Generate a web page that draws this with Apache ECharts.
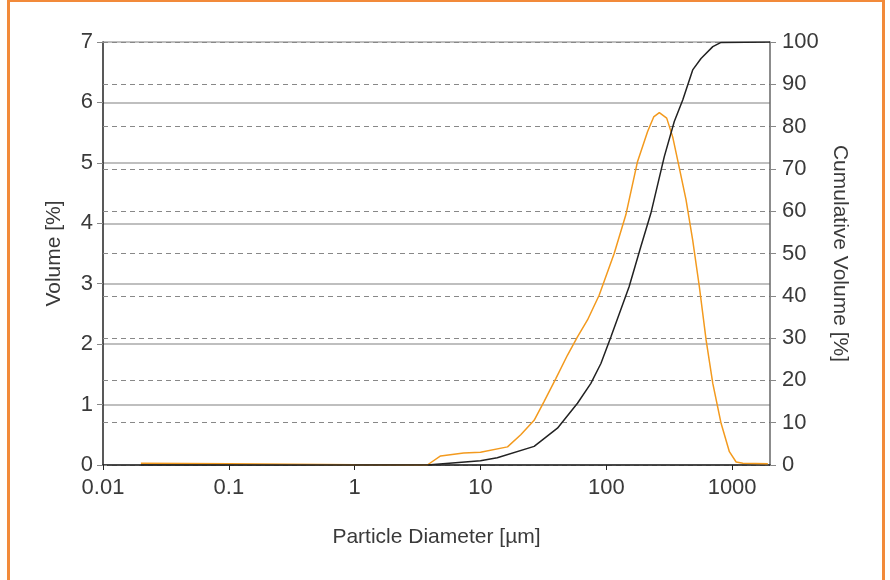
<!DOCTYPE html>
<html>
<head>
<meta charset="utf-8">
<script src="https://cdn.jsdelivr.net/npm/echarts@6/dist/echarts.min.js"></script>
<style>
  html, body { margin: 0; padding: 0; background: #fff; }
  #chart { width: 890px; height: 580px; }
</style>
</head>
<body>
<div id="chart"></div>
<script>
// particle size distribution
const volDiameters = [0.02, 0.1, 1, 3.78, 4.82, 7.35, 10, 16.4, 20.9, 26.7, 32, 39.7, 49.2, 59, 70.9, 87.7,
  115.5, 143, 177, 213, 238, 264, 302, 337, 380, 430, 486, 549, 621, 702, 817, 951, 1076, 1217, 1923];
const volValues = [0.03, 0.02, 0.005, 0, 0.15, 0.2, 0.21, 0.3, 0.5, 0.74, 1.05, 1.43, 1.82, 2.12, 2.4, 2.81,
  3.5, 4.14, 5.02, 5.52, 5.76, 5.83, 5.74, 5.43, 4.92, 4.39, 3.72, 2.95, 2.07, 1.35, 0.69, 0.22, 0.05, 0.03, 0.02];

const cumDiameters = [0.02, 1, 3.78, 10, 13.6, 26.7, 40.9, 59, 75.4, 90.6, 108.9, 152, 188, 226, 289, 347,
  405, 486, 566, 702, 817, 2000];
const cumValues = [0, 0, 0, 1.0, 1.7, 4.4, 8.7, 14.6, 19.3, 24, 30.3, 42.2, 51.6, 59.5, 72.9, 81.2,
  86.3, 93.4, 96.1, 98.9, 99.9, 100];

const volTicks = [0, 1, 2, 3, 4, 5, 6, 7];
const cumTicks = [0, 10, 20, 30, 40, 50, 60, 70, 80, 90, 100];

const font = 'Liberation Sans';
const textColor = '#3a3a3a';

const chart = echarts.init(document.getElementById('chart'));

const option = {
  animation: false,
  backgroundColor: '#fff',
  grid: { left: 103, right: 120, top: 42, bottom: 115 },
  graphic: [{
    type: 'rect',
    shape: { x: 8.5, y: 0.5, width: 875, height: 640 },
    style: { fill: 'none', stroke: '#f28a3a', lineWidth: 3 },
    silent: true
  }],
  xAxis: {
    type: 'log',
    logBase: 10,
    min: 0.01,
    max: 2000,
    name: 'Particle Diameter [µm]',
    nameLocation: 'middle',
    nameGap: 62,
    nameTextStyle: { fontFamily: font, fontSize: 21, color: textColor },
    axisLine: { lineStyle: { color: '#222', width: 1.5 } },
    axisTick: { show: true, length: 5, lineStyle: { color: '#222' } },
    axisLabel: {
      fontFamily: font, fontSize: 22, color: textColor, margin: 12,
      showMaxLabel: false,
      formatter: v => {
        const p = Math.round(Math.log10(v));
        if (Math.abs(Math.log10(v) - p) > 1e-6) return '';
        return p < 0 ? v.toFixed(-p) : String(Math.round(v));
      }
    },
    splitLine: { show: false },
    minorTick: { show: false }
  },
  yAxis: [
    {
      type: 'value',
      min: volTicks[0],
      max: volTicks[volTicks.length - 1],
      interval: 1,
      position: 'left',
      name: 'Volume [%]',
      nameLocation: 'middle',
      nameRotate: 90,
      nameGap: 38,
      nameTextStyle: { fontFamily: font, fontSize: 21, color: textColor },
      axisLine: { show: true, lineStyle: { color: '#222', width: 1.5 } },
      axisTick: { show: true, length: 6, lineStyle: { color: '#888' } },
      axisLabel: { fontFamily: font, fontSize: 22, color: textColor, margin: 10 },
      splitLine: { show: true, lineStyle: { color: '#aaa', width: 1.5 } }
    },
    {
      type: 'value',
      min: cumTicks[0],
      max: cumTicks[cumTicks.length - 1],
      interval: 10,
      position: 'right',
      name: 'Cumulative Volume [%]',
      nameLocation: 'middle',
      nameRotate: -90,
      nameGap: 52,
      nameTextStyle: { fontFamily: font, fontSize: 21, color: textColor },
      axisLine: { show: true, lineStyle: { color: '#666', width: 1.5 } },
      axisTick: { show: true, length: 6, lineStyle: { color: '#888' } },
      axisLabel: { fontFamily: font, fontSize: 22, color: textColor, margin: 12 },
      splitLine: { show: true, lineStyle: { color: '#888', type: [5, 4], width: 1.2 } }
    },
    {
      // inner ticks of the cumulative scale drawn on the left axis
      type: 'value',
      min: cumTicks[0],
      max: cumTicks[cumTicks.length - 1],
      interval: 10,
      position: 'left',
      axisLine: { show: false },
      axisTick: { show: true, inside: true, length: 4, lineStyle: { color: '#888' } },
      axisLabel: { show: false },
      splitLine: { show: false }
    }
  ],
  series: [
    {
      name: 'Volume',
      type: 'line',
      yAxisIndex: 0,
      showSymbol: false,
      lineStyle: { color: '#f39a1e', width: 1.5 },
      data: volDiameters.map((d, i) => [d, volValues[i]]),
      z: 3
    },
    {
      name: 'Cumulative',
      type: 'line',
      yAxisIndex: 1,
      showSymbol: false,
      lineStyle: { color: '#222', width: 1.5 },
      data: cumDiameters.map((d, i) => [d, cumValues[i]]),
      z: 4
    }
  ]
};

chart.setOption(option);
</script>
</body>
</html>
